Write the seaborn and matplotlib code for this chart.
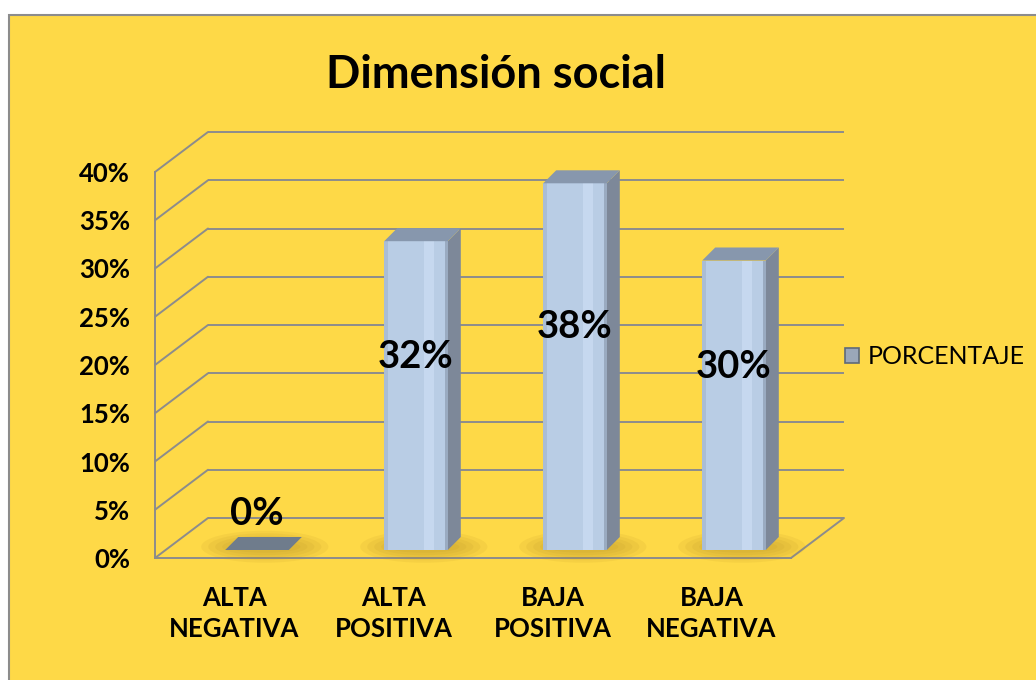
import numpy as np
import pandas as pd
import matplotlib
matplotlib.use("Agg")
import matplotlib.pyplot as plt
from matplotlib.patches import Polygon, Rectangle, Patch, Ellipse, FancyBboxPatch
from matplotlib.ticker import FixedLocator
import seaborn as sns

# ---------------- data ----------------
categories = ["ALTA\nNEGATIVA", "ALTA\nPOSITIVA", "BAJA\nPOSITIVA", "BAJA\nNEGATIVA"]
porcentaje = [0.00, 0.32, 0.38, 0.30]
value_labels = ["0%", "32%", "38%", "30%"]
y_ticks = [0.00, 0.05, 0.10, 0.15, 0.20, 0.25, 0.30, 0.35, 0.40]
y_tick_labels = ["0%", "5%", "10%", "15%", "20%", "25%", "30%", "35%", "40%"]
series_name = "PORCENTAJE"
title = "Dimensión social"

df = pd.DataFrame({"categoria": categories, "valor": porcentaje})

# ---------------- style ----------------
sns.set_style("white")
plt.rcParams["font.family"] = ["Lato", "DejaVu Sans"]
plt.rcParams["text.color"] = "black"
plt.rcParams["xtick.color"] = "black"
plt.rcParams["ytick.color"] = "black"
plt.rcParams["xtick.labelcolor"] = "black"
plt.rcParams["ytick.labelcolor"] = "black"

YELLOW = "#FED947"
GRID = "#8C8C8C"
FRONT = "#B9CDE5"
SIDE = "#7D8899"
TOP = "#8797AD"
HILITE = "#CADCF2"
SHADOW = "#B08A22"

W, H = 1036, 680
fig = plt.figure(figsize=(W / 100, H / 100), dpi=100)
fig.patch.set_facecolor("white")

panel = Rectangle((9 / W, -0.02), 1.05, (H - 15) / H + 0.02, transform=fig.transFigure,
                  facecolor=YELLOW, edgecolor=GRID, lw=1.5, zorder=-10)
fig.patches.append(panel)

# plane of bar front faces (pixels, from figure bottom)
AX_L, AX_B, AX_W, AX_H = 177.5, 130.0, 636.0, 386.0
# front (axis) plane offset & back wall offset relative to bar plane, in pixels
F_OFF = (-22.5, -8.0)
B_OFF = (30.5, 32.0)
DEPTH = (13.0, 13.0)

XLIM = (-0.5, 3.5)
YLIM = (0.0, 0.40)
sx = AX_W / (XLIM[1] - XLIM[0])
sy = AX_H / (YLIM[1] - YLIM[0])


def off(p):
    return p[0] / sx, p[1] / sy


ax = fig.add_axes([AX_L / W, AX_B / H, AX_W / W, AX_H / H], zorder=2)
ax.patch.set_alpha(0)

sns.barplot(data=df, x="categoria", y="valor", color=FRONT, saturation=1,
            width=0.40, ax=ax, zorder=4, linewidth=0)
ax.set_xlim(*XLIM)
ax.set_ylim(*YLIM)
for s in ax.spines.values():
    s.set_visible(False)
ax.set_xticks([])
ax.set_yticks([])
ax.set_xlabel("")
ax.set_ylabel("")

fx, fy = off(F_OFF)
bx, by = off(B_OFF)
dx, dy = off(DEPTH)
lw = 1.4

# back wall gridlines & left wall diagonals
for t in y_ticks:
    ax.plot([XLIM[0] + bx, XLIM[1] + bx], [t + by, t + by], color=GRID, lw=lw,
            clip_on=False, zorder=1, solid_capstyle="butt")
    ax.plot([XLIM[0] + fx, XLIM[0] + bx], [t + fy, t + by], color=GRID, lw=lw,
            clip_on=False, zorder=1)
# right floor edge
ax.plot([XLIM[1] + fx, XLIM[1] + bx], [fy, by], color=GRID, lw=lw, clip_on=False, zorder=1)

# 3D bar faces
bars = list(ax.patches)
for p in bars:
    x0, w, h = p.get_x(), p.get_width(), p.get_height()
    # floor shadow
    for k in range(5):
        e = Ellipse((x0 + w / 2 + dx * 0.6, dy * 0.25), width=w * (2.0 - 0.22 * k),
                    height=(32 - 5 * k) / sy, facecolor=SHADOW, alpha=0.10,
                    edgecolor="none", zorder=2, clip_on=False)
        ax.add_patch(e)
    side = Polygon([(x0 + w, 0), (x0 + w, h), (x0 + w + dx, h + dy), (x0 + w + dx, dy)],
                   closed=True, facecolor=SIDE, edgecolor="none", zorder=3, clip_on=False)
    top = Polygon([(x0, h), (x0 + w, h), (x0 + w + dx, h + dy), (x0 + dx, h + dy)],
                  closed=True, facecolor=TOP if h > 0 else "#6F7C8C", edgecolor="none",
                  zorder=5, clip_on=False, joinstyle="round")
    ax.add_patch(side)
    ax.add_patch(top)
    if h > 0:
        ax.add_patch(Rectangle((x0 + w * 0.62, 0), w * 0.16, h, facecolor=HILITE,
                               edgecolor="none", alpha=0.8, zorder=4.5))
        ax.add_patch(Rectangle((x0, 0), w * 0.06, h, facecolor="#A7BAD2",
                               edgecolor="none", alpha=0.8, zorder=4.5))
        ax.add_patch(Rectangle((x0 + w - w * 0.05, 0), w * 0.05, h, facecolor="#93A3B8",
                               edgecolor="none", alpha=0.8, zorder=4.5))

# data labels
for i, (v, lab) in enumerate(zip(porcentaje, value_labels)):
    ax.text(i, v * 0.51 + 0.037, lab, ha="center", va="center", fontsize=27.5,
            fontweight="bold", color="black", zorder=7)

# front axis plane (ticks, labels, front spines)
axf = fig.add_axes([(AX_L + F_OFF[0]) / W, (AX_B + F_OFF[1]) / H, AX_W / W, AX_H / H],
                   zorder=1)
axf.patch.set_alpha(0)
axf.set_xlim(*XLIM)
axf.set_ylim(*YLIM)
for k in ("top", "right"):
    axf.spines[k].set_visible(False)
for k in ("left", "bottom"):
    axf.spines[k].set_color(GRID)
    axf.spines[k].set_linewidth(lw)
axf.set_yticks(y_ticks)
axf.set_yticklabels(y_tick_labels, fontsize=18.5, fontweight="bold", color="black")
axf.set_xticks(range(len(categories)))
axf.set_xticklabels(categories, fontsize=18.5, fontweight="bold", linespacing=1.38,
                    color="black")
axf.xaxis.set_minor_locator(FixedLocator([-0.5, 0.5, 1.5, 2.5, 3.5]))
axf.tick_params(axis="y", length=10, width=lw, color=GRID, pad=8)
axf.tick_params(axis="x", which="major", length=0, pad=20)
axf.tick_params(axis="x", which="minor", length=9, width=lw, color=GRID)

# title
fig.text(496 / W, 1 - 75 / H, title, ha="center", va="center", fontsize=32.5,
         fontweight="bold", color="black")

# legend
handle = Patch(facecolor="#9AA7B9", edgecolor="#5E6A7A", linewidth=1.2)
fig.legend(handles=[handle], labels=[series_name], loc="center left",
           bbox_to_anchor=(845 / W, 1 - 357 / H), frameon=False, fontsize=18,
           handlelength=0.55, handleheight=0.55, handletextpad=0.35,
           borderaxespad=0, borderpad=0, labelcolor="black")

fig.savefig("out.png", dpi=100, facecolor=fig.get_facecolor())
